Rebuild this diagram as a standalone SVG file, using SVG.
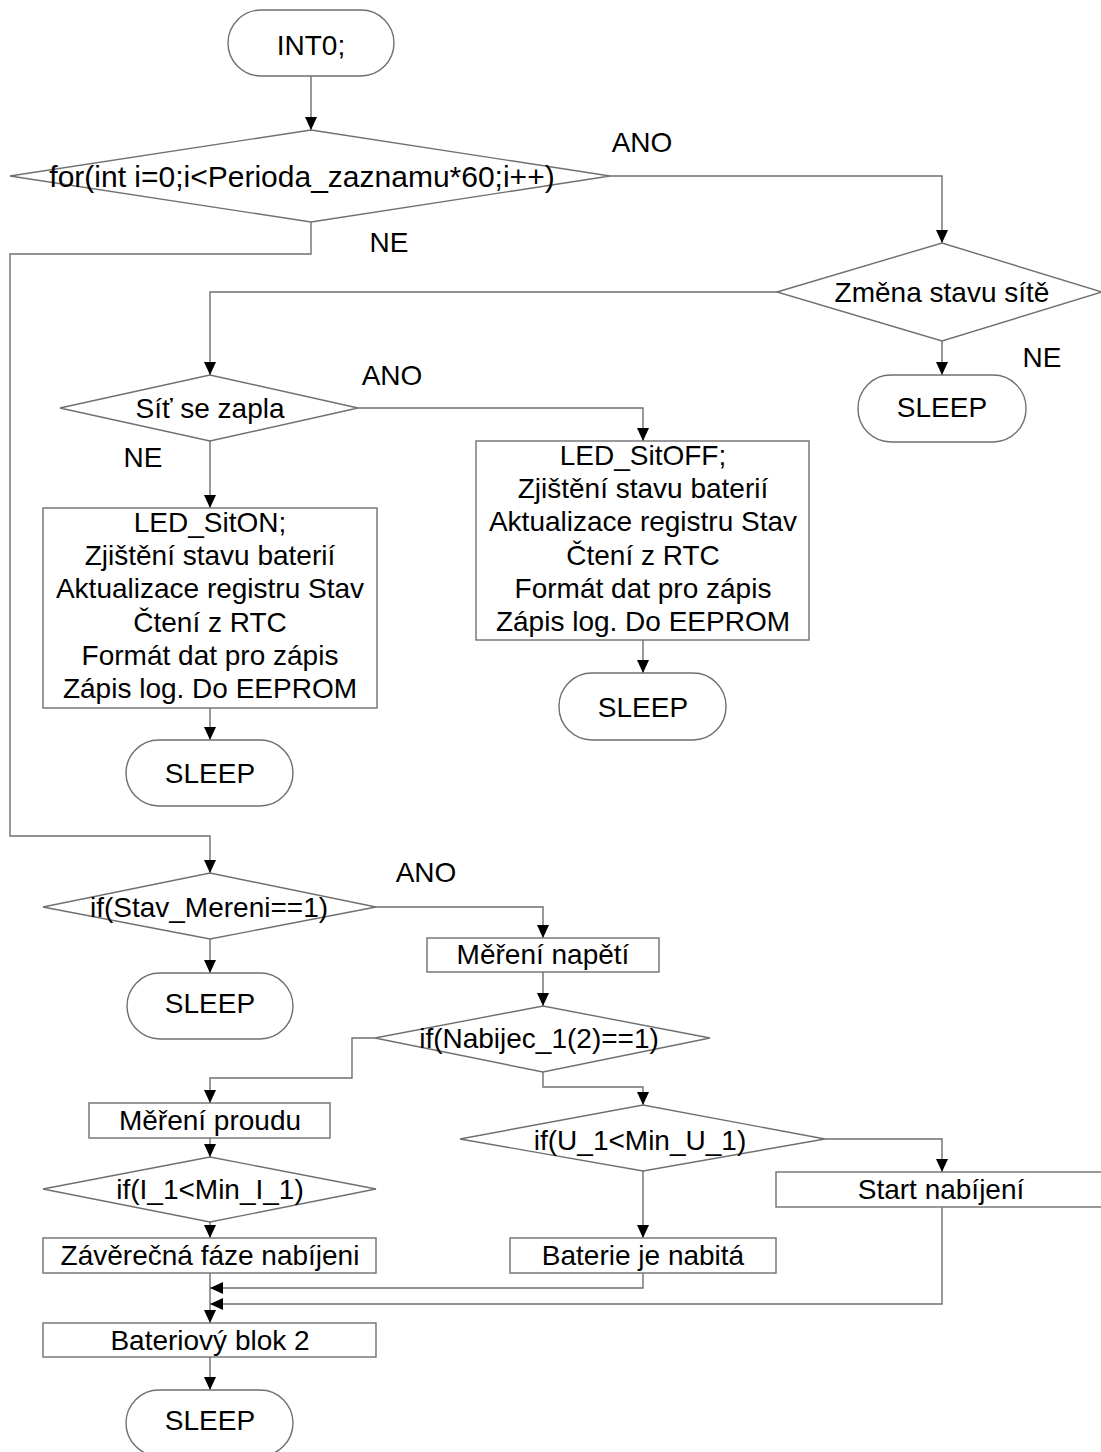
<svg xmlns="http://www.w3.org/2000/svg" width="1101" height="1452" viewBox="0 0 1101 1452">
<style>
.s{fill:#fff;stroke:#6f6f6f;stroke-width:1.4}
.c{fill:none;stroke:#6f6f6f;stroke-width:1.4;marker-end:url(#ah)}
text{font-family:"Liberation Sans",Arial,sans-serif;font-size:28px;fill:#000;text-anchor:middle}
.big{font-size:30px}
</style>
<defs>
<marker id="ah" viewBox="0 0 13 12" refX="13" refY="6" markerWidth="13" markerHeight="12" markerUnits="userSpaceOnUse" orient="auto">
<path d="M0,0 L13,6 L0,12 z" fill="#000"/>
</marker>
</defs>
<rect width="1101" height="1452" fill="#fff"/>
<g id="connectors">
<path class="c" d="M311,76 V130"/>
<path class="c" d="M610,176 H942 V243"/>
<path class="c" d="M311,222 V254 H10 V836 H210 V873"/>
<path class="c" d="M777,292 H210 V375"/>
<path class="c" d="M942,341 V375"/>
<path class="c" d="M358,408 H643 V441"/>
<path class="c" d="M210,441 V508"/>
<path class="c" d="M210,708 V740"/>
<path class="c" d="M643,640 V673"/>
<path class="c" d="M376,907 H543 V938"/>
<path class="c" d="M210,939 V973"/>
<path class="c" d="M543,972 V1006"/>
<path class="c" d="M375,1038 H352 V1078 H210 V1103"/>
<path class="c" d="M543,1072 V1087 H643 V1105"/>
<path class="c" d="M825,1139 H942 V1172"/>
<path class="c" d="M643,1171 V1238"/>
<path class="c" d="M210,1138 V1157"/>
<path class="c" d="M210,1222 V1238"/>
<path class="c" d="M210,1273 V1323"/>
<path class="c" d="M643,1273 V1288 H210"/>
<path class="c" d="M942,1207 V1304 H210"/>
<path class="c" d="M210,1357 V1390"/>
</g>
<g id="labels">
<text x="642" y="152">ANO</text>
<text x="389" y="252">NE</text>
<text x="1042" y="367">NE</text>
<text x="392" y="385">ANO</text>
<text x="143" y="467">NE</text>
<text x="426" y="882">ANO</text>
</g>
<g id="start"><rect class="s" x="228" y="10" width="166" height="66" rx="33"/><text x="311" y="55">INT0;</text></g>
<g id="for"><polygon class="s" points="10,176 311,130 610,176 311,222"/><text class="big" x="302" y="187">for(int i=0;i&lt;Perioda_zaznamu*60;i++)</text></g>
<g id="zmena"><polygon class="s" points="777,292 942,243 1102,292 942,341"/><text x="942" y="302">Změna stavu sítě</text></g>
<g id="sleep1"><rect class="s" x="858" y="375" width="168" height="67" rx="33"/><text x="942" y="417">SLEEP</text></g>
<g id="zapla"><polygon class="s" points="60,408 210,375 358,408 210,441"/><text x="210" y="418">Síť se zapla</text></g>
<g id="siton"><rect class="s" x="43" y="508" width="334" height="200"/>
<text x="210" y="532">LED_SitON;</text>
<text x="210" y="565">Zjištění stavu baterií</text>
<text x="210" y="598">Aktualizace registru Stav</text>
<text x="210" y="632">Čtení z RTC</text>
<text x="210" y="665">Formát dat pro zápis</text>
<text x="210" y="698">Zápis log. Do EEPROM</text></g>
<g id="sitoff"><rect class="s" x="476" y="441" width="333" height="199"/>
<text x="643" y="465">LED_SitOFF;</text>
<text x="643" y="498">Zjištění stavu baterií</text>
<text x="643" y="531">Aktualizace registru Stav</text>
<text x="643" y="565">Čtení z RTC</text>
<text x="643" y="598">Formát dat pro zápis</text>
<text x="643" y="631">Zápis log. Do EEPROM</text></g>
<g id="sleep2"><rect class="s" x="559" y="673" width="167" height="67" rx="33"/><text x="643" y="717">SLEEP</text></g>
<g id="sleep3"><rect class="s" x="126" y="740" width="167" height="66" rx="33"/><text x="210" y="783">SLEEP</text></g>
<g id="stav"><polygon class="s" points="43,907 210,873 376,907 210,939"/><text x="209" y="917">if(Stav_Mereni==1)</text></g>
<g id="sleep4"><rect class="s" x="127" y="973" width="166" height="66" rx="33"/><text x="210" y="1013">SLEEP</text></g>
<g id="napeti"><rect class="s" x="427" y="938" width="232" height="34"/><text x="543" y="964">Měření napětí</text></g>
<g id="nabijec"><polygon class="s" points="375,1038 543,1006 710,1038 543,1072"/><text x="539" y="1048">if(Nabijec_1(2)==1)</text></g>
<g id="proud"><rect class="s" x="89" y="1103" width="241" height="35"/><text x="210" y="1130">Měření proudu</text></g>
<g id="imin"><polygon class="s" points="43,1189 210,1157 376,1189 210,1222"/><text x="210" y="1199">if(I_1&lt;Min_I_1)</text></g>
<g id="zaver"><rect class="s" x="43" y="1238" width="333" height="35"/><text x="210" y="1265">Závěrečná fáze nabíjeni</text></g>
<g id="umin"><polygon class="s" points="460,1139 643,1105 825,1139 643,1171"/><text x="640" y="1150">if(U_1&lt;Min_U_1)</text></g>
<g id="nabita"><rect class="s" x="510" y="1238" width="266" height="35"/><text x="643" y="1265">Baterie je nabitá</text></g>
<g id="startnab"><rect class="s" x="776" y="1172" width="332" height="35"/><text x="941" y="1199">Start nabíjení</text></g>
<g id="blok2"><rect class="s" x="43" y="1323" width="333" height="34"/><text x="210" y="1350">Bateriový blok 2</text></g>
<g id="sleep5"><rect class="s" x="126" y="1390" width="167" height="66" rx="33"/><text x="210" y="1430">SLEEP</text></g>
</svg>
